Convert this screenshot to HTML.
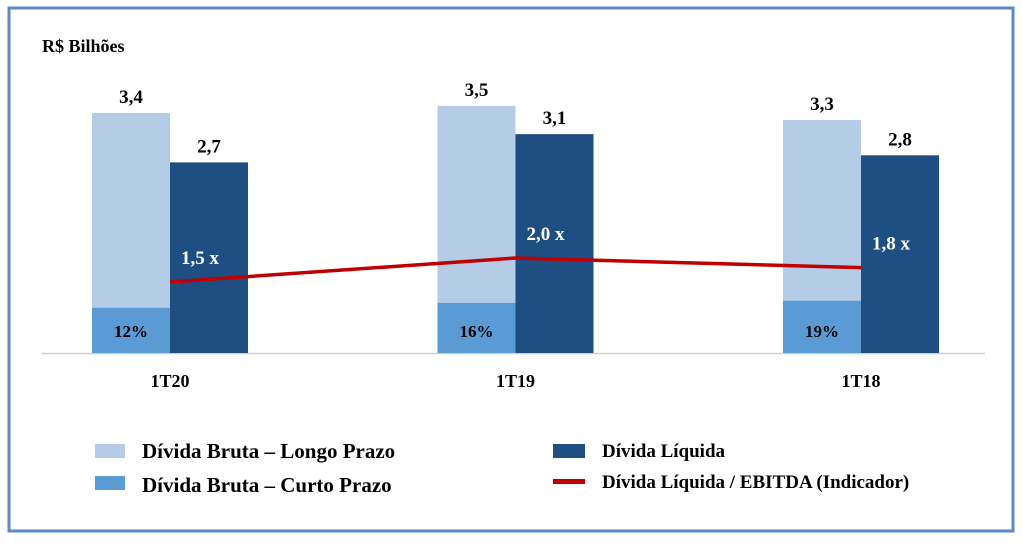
<!DOCTYPE html>
<html><head><meta charset="utf-8"><style>
body{margin:0;background:#fff;}
svg text{font-family:"Liberation Serif",serif;font-weight:bold;}
</style></head><body>
<svg width="1022" height="540">
<rect x="9" y="8" width="1004" height="523" fill="#fff" stroke="#5b8ac6" stroke-width="3"/>
<text x="42" y="52" font-size="18" fill="#000">R$ Bilhões</text>
<line x1="42" y1="353.5" x2="985" y2="353.5" stroke="#d0d0d0" stroke-width="1.5"/>
<g id="bars"></g>
<g id="legend">
<rect x="95" y="444" width="30" height="14" fill="#b4cce6"/>
<text x="142" y="458" font-size="21">Dívida Bruta – Longo Prazo</text>
<rect x="95" y="476" width="30" height="14" fill="#5b9bd5"/>
<text x="142" y="492" font-size="21">Dívida Bruta – Curto Prazo</text>
<rect x="553" y="444" width="32" height="14" fill="#1f4e83"/>
<text x="602" y="457" font-size="19">Dívida Líquida</text>
<rect x="553" y="479" width="32" height="5" fill="#c00000"/>
<text x="602" y="488" font-size="19">Dívida Líquida / EBITDA (Indicador)</text>
</g>
</svg>
<script>
const categories = ["1T20","1T19","1T18"];
const grossDebt = [3.4,3.5,3.3];
const netDebt = [2.7,3.1,2.8];
const shortTermDebt = [0.64,0.71,0.74];
const shortTermPct = ["12%","16%","19%"];
const ratio = [1.5,2.0,1.8];
const ratioLabels = ["1,5 x","2,0 x","1,8 x"];

const NS="http://www.w3.org/2000/svg";
const g=document.getElementById('bars');
const base=353, scale=70.6, bw=78;
const xc=i=>170+i*345.5;
const yv=v=>base-v*scale;
const yr=r=>354-r*48;
const fmt=v=>v.toFixed(1).replace('.',',');
function mk(tag,attrs){const e=document.createElementNS(NS,tag);for(const k in attrs)e.setAttribute(k,attrs[k]);g.appendChild(e);return e;}
categories.forEach((c,i)=>{
  const x=xc(i);
  let r=mk('rect',{x:x-bw,y:yv(grossDebt[i]),width:bw,height:base-yv(grossDebt[i]),fill:'#b4cce6'});
  
  
  r=mk('rect',{x:x-bw,y:yv(shortTermDebt[i]),width:bw,height:base-yv(shortTermDebt[i]),fill:'#5b9bd5'});
  
  
  r=mk('rect',{x:x,y:yv(netDebt[i]),width:bw,height:base-yv(netDebt[i]),fill:'#1f4e83'});
  
  
  let t=mk('text',{x:x-bw/2,y:yv(grossDebt[i])-10,'font-size':19,'text-anchor':'middle'});t.textContent=fmt(grossDebt[i]);
  
  
  t=mk('text',{x:x+bw/2,y:yv(netDebt[i])-10,'font-size':19,'text-anchor':'middle'});t.textContent=fmt(netDebt[i]);
  
  
  t=mk('text',{x:x-bw/2,y:base-16,'font-size':17,'text-anchor':'middle'});t.textContent=shortTermPct[i];
  
  
  t=mk('text',{x:x,y:387,'font-size':18,'text-anchor':'middle'});t.textContent=c;
  
  
});
const pts=ratio.map((r,i)=>xc(i)+','+yr(r)).join(' ');
const pl=mk('polyline',{points:pts,fill:'none',stroke:'#c00000','stroke-width':3.5});


ratio.forEach((r,i)=>{
  const t=mk('text',{x:xc(i)+30,y:yr(r)-18+(i==1?0:0),'font-size':19,fill:'#fff','text-anchor':'middle'});
  t.textContent=ratioLabels[i];
  
  
});
</script>
</body></html>
